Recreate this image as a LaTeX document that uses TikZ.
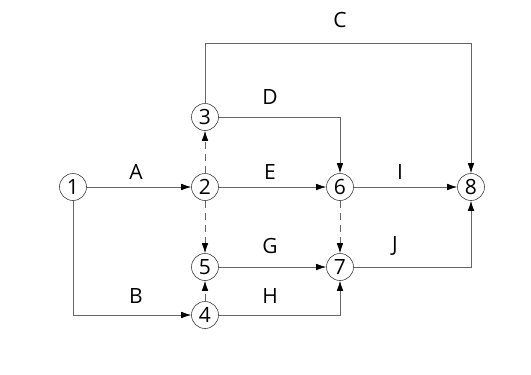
\documentclass[tikz,border=0pt]{standalone}
\usepackage{fontspec}
\setmainfont{Open Sans}
\usetikzlibrary{arrows.meta}
\begin{document}
\begin{tikzpicture}[x=1pt,y=-1pt,
  ev/.style={circle,draw=black!75,line width=0.6pt,fill=white,minimum size=27pt,inner sep=0pt,font=\fontsize{21}{21}\selectfont},
  act/.style={draw=black!60,line width=0.7pt,-{Latex[length=10pt,width=6.5pt,black]}},
  dum/.style={act,dash pattern=on 7pt off 5pt},
  lbl/.style={font=\fontsize{21}{21}\selectfont}]
\useasboundingbox (0,0) rectangle (531,375);
\node[ev] (n1) at (73,187) {1};
\node[ev] (n2) at (205,187) {2};
\node[ev] (n3) at (205,117) {3};
\node[ev] (n5) at (205,267) {5};
\node[ev] (n4) at (205,315) {4};
\node[ev] (n6) at (340,187) {6};
\node[ev] (n7) at (340,267) {7};
\node[ev] (n8) at (471,187) {8};
\draw[act] (n1) -- (n2);
\draw[act] (n1) |- (n4);
\draw[act] (n3.north) |- (471,43) -- (n8.north);
\draw[act] (n3) -| (n6);
\draw[act] (n2) -- (n6);
\draw[act] (n6) -- (n8);
\draw[act] (n5) -- (n7);
\draw[act] (n4) -| (n7);
\draw[act] (n7) -| (n8);
\draw[dum] (n2) -- (n3);
\draw[dum] (n2) -- (n5);
\draw[dum] (n4) -- (n5);
\draw[dum] (n6) -- (n7);
\node[lbl] (la) at (136,172) {A};
\node[lbl] (lb) at (136,296) {B};
\node[lbl] (lc) at (340,20) {C};
\node[lbl] (ld) at (270,97) {D};
\node[lbl] (le) at (270,172) {E};
\node[lbl] (lg) at (270,246) {G};
\node[lbl] (lh) at (270,296) {H};
\node[lbl] (li) at (400,172) {I};
\node[lbl] (lj) at (395,246) {J};
\end{tikzpicture}
\end{document}
